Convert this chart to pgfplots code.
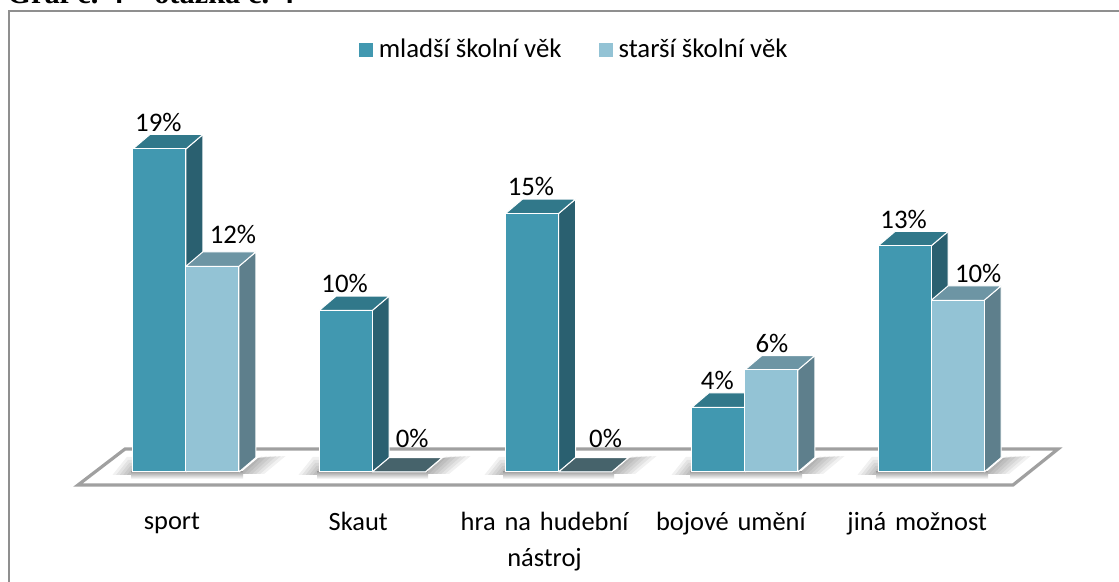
\documentclass[border=0pt]{standalone}
\usepackage{fontspec}
\setmainfont{Carlito}
\newfontfamily\titlefont{Liberation Serif}
\usepackage{pgfplots}
\pgfplotsset{compat=1.18}

\definecolor{frontA}{HTML}{4198B0}
\definecolor{sideA}{HTML}{2A6070}
\definecolor{topA}{HTML}{31788A}
\definecolor{frontB}{HTML}{93C3D5}
\definecolor{sideB}{HTML}{5E7F8C}
\definecolor{topB}{HTML}{6D95A4}
\definecolor{zeroTop}{HTML}{46636B}
\definecolor{frameGray}{HTML}{8F8F8F}
\definecolor{floorGray}{HTML}{A0A0A0}

% side and top face of one bar: category, value, left edge offset, colours
\newcommand{\barbox}[5]{%
  \pgfmathsetmacro{\xl}{#1+#3}%
  \pgfmathsetmacro{\xr}{\xl+0.2845}%
  \pgfmathsetmacro{\xlb}{\xl+0.0912}%
  \pgfmathsetmacro{\xrb}{\xr+0.0912}%
  \pgfmathsetmacro{\vb}{#2+0.85}%
  \addplot[fill=#5, draw=white, line width=.5pt, forget plot]
    coordinates {(\xr,0) (\xrb,0.85) (\xrb,\vb) (\xr,#2) (\xr,0)};
  \addplot[fill=#4, draw=white, line width=.5pt, forget plot]
    coordinates {(\xl,#2) (\xlb,\vb) (\xrb,\vb) (\xr,#2) (\xl,#2)};
}
% soft shadow round a group on the floor, in pixels: stacked see-through shapes
\newcommand{\groupshadow}[2]{%
  \pgfplotsinvokeforeach{1,...,6}{
    \fill[black, opacity=.055] (#1+2,475) -- (#1-3.6*##1,475) -- (#1-1.2*##1,475-3*##1) -- (#1+2,475-3*##1) -- cycle;
    \fill[black, opacity=.055] (#2-1,474) -- (#2+18,458) -- (#2+18+4.6*##1,456) -- (#2+4*##1,474) -- cycle;
  }
  \fill[top color=gray!70, bottom color=white] (#1-3,472) rectangle (#2+3,479);
}
\pgfplotsset{
  barlabel/.style={
    nodes near coords={\pgfmathprintnumber[fixed,precision=0,assume math mode=true]{\pgfplotspointmeta}\%},
    point meta=y,
    every node near coord/.append style={anchor=center, inner sep=0pt,
        font=\fontsize{13.4}{15}\selectfont, text=black, #1}}
}

\begin{document}
\begin{tikzpicture}
\useasboundingbox (0,0) rectangle (559.5pt,291pt);
\clip (0,0) rectangle (559.5pt,291pt);
% picture frame, title, floor: image pixels
\begin{axis}[
    name=bg, at={(0,0)}, anchor=south west,
    scale only axis, width=559.5pt, height=291pt,
    xmin=0, xmax=1119, ymin=0, ymax=582, y dir=reverse,
    hide axis, clip=false]
  \draw[frameGray, line width=1pt] (8.5,582) -- (8.5,11) -- (1119,11);
  \node[anchor=base west, inner sep=0pt, font=\titlefont\bfseries\fontsize{15.2}{17}\selectfont]
    at (7,3.5) {Graf č. 4 – otázka č. 4};
  \fill[white] (78,485) -- (125,449) -- (1058,449) -- (1013,485) -- cycle;
  \draw[floorGray, line width=1.6pt, line join=miter] (78,485) -- (125,449) -- (1058,449) -- (1013,485) -- cycle;
  \groupshadow{134}{240}
  \groupshadow{320}{425}
  \groupshadow{506}{611}
  \groupshadow{693}{799}
  \groupshadow{879}{985}
\end{axis}
% bars: category on x, percent on y
\begin{axis}[
    at={(0,55pt)}, anchor=south west,
    scale only axis, width=559.5pt, height=236pt,
    xmin=-0.998, xmax=5.008, ymin=0, ymax=27.76,
    axis y line=none, axis x line=bottom,
    x axis line style={draw=none},
    major tick length=0pt,
    xtick={0,1,2,3,4},
    xticklabels={sport,Skaut,hra na hudební nástroj,bojové umění,jiná možnost},
    xticklabel style={font=\fontsize{13.2}{18}\selectfont, text width=92pt, align=center,
        anchor=north, xshift=-7pt, yshift=-20pt, inner sep=0pt},
    clip=false,
    legend style={at={(0.514,0.894)}, anchor=center, draw=none, fill=none,
        legend columns=2, font=\fontsize{13.4}{15}\selectfont,
        /tikz/every odd column/.append style={column sep=1pt},
        /tikz/every even column/.append style={column sep=16.5pt}},
    legend cell align=left]

  % series 1
  \barbox{0}{19.0}{-0.2845}{topA}{sideA}
  \barbox{1}{9.5}{-0.2845}{topA}{sideA}
  \barbox{2}{15.2}{-0.2845}{topA}{sideA}
  \barbox{3}{3.8}{-0.2845}{topA}{sideA}
  \barbox{4}{13.3}{-0.2845}{topA}{sideA}
  \addplot[ybar, bar width=26.5pt, bar shift=-13.25pt, fill=frontA, draw=white, line width=.5pt,
      legend image code/.code={\fill[frontA] (0pt,-3.25pt) rectangle (6.5pt,3.25pt);},
      barlabel={yshift=13.3pt, xshift=-13.8pt}]
    coordinates {(0,19.0) (1,9.5) (2,15.2) (3,3.8) (4,13.3)};
  \addlegendentry{mladší školní věk}

  % series 2
  \barbox{0}{12.1}{0}{topB}{sideB}
  \barbox{1}{0}{0}{zeroTop}{zeroTop}
  \barbox{2}{0}{0}{zeroTop}{zeroTop}
  \barbox{3}{6.0}{0}{topB}{sideB}
  \barbox{4}{10.1}{0}{topB}{sideB}
  \addplot[ybar, bar width=26.5pt, bar shift=13.25pt, fill=frontB, draw=white, line width=.5pt,
      legend image code/.code={\fill[frontB] (0pt,-3.25pt) rectangle (6.5pt,3.25pt);},
      barlabel={yshift=13.3pt, xshift=23.5pt},
      coordinate style/.condition={x==0}{yshift=2.7pt},
      coordinate style/.condition={x==1}{xshift=-3.5pt, yshift=3.7pt},
      coordinate style/.condition={x==2}{yshift=3.7pt},
      coordinate style/.condition={x==3}{xshift=-10pt}]
    coordinates {(0,12.1) (1,0) (2,0) (3,6.0) (4,10.1)};
  \addlegendentry{starší školní věk}
\end{axis}
\end{tikzpicture}
\end{document}
